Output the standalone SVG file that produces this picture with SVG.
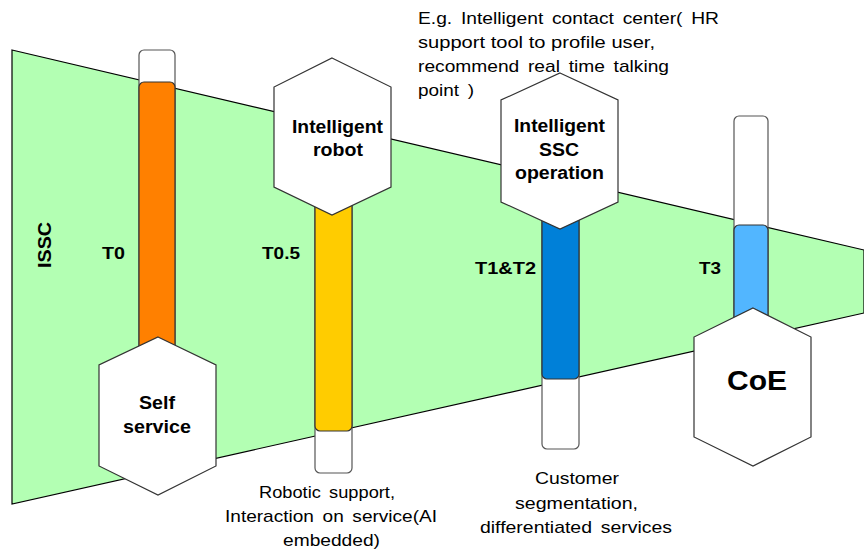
<svg xmlns="http://www.w3.org/2000/svg" width="864" height="549" viewBox="0 0 864 549">
<style>
.t{font-family:"Liberation Sans",Arial,sans-serif;fill:#000}
.b{font-weight:bold}
.hex{fill:#fff;stroke:#333;stroke-width:1.2}
.outer{fill:#fff;stroke:#555;stroke-width:1.2}
.bar{stroke:#333;stroke-width:1.2}
</style>
<rect width="864" height="549" fill="#fff"/>
<g id="issc-band">
<polygon points="12,50 864,250 864,313 12,504" fill="#b3ffb3" stroke="#000" stroke-width="1.2"/>
<text class="t b" font-size="19" transform="translate(51,245) rotate(-90)" text-anchor="middle" textLength="46" lengthAdjust="spacingAndGlyphs">ISSC</text>
</g>
<g id="connectors">
<rect class="outer" x="139" y="50" width="36" height="380" rx="5"/>
<rect class="bar" x="139" y="82" width="36" height="380" rx="5" fill="#ff8000"/>
<rect class="outer" x="315" y="150" width="37" height="323" rx="5"/>
<rect class="bar" x="315" y="150" width="37" height="281" rx="5" fill="#ffcc00"/>
<rect class="outer" x="542" y="180" width="37" height="269" rx="5"/>
<rect class="bar" x="542" y="180" width="37" height="199" rx="5" fill="#0080d8"/>
<rect class="outer" x="734" y="116" width="34" height="220" rx="5"/>
<rect class="bar" x="734" y="225" width="34" height="111" rx="5" fill="#52b6ff"/>
</g>
<g id="labels">
<text class="t b" font-size="17" x="102" y="259" textLength="23" lengthAdjust="spacingAndGlyphs">T0</text>
<text class="t b" font-size="17" x="262" y="259" textLength="38" lengthAdjust="spacingAndGlyphs">T0.5</text>
<text class="t b" font-size="17" x="475" y="274" textLength="61" lengthAdjust="spacingAndGlyphs">T1&amp;T2</text>
<text class="t b" font-size="17" x="699" y="274" textLength="22" lengthAdjust="spacingAndGlyphs">T3</text>
</g>
<g id="self-service">
<polygon class="hex" points="158,337 216,365 216,466 158,495 99,466 99,365"/>
<text class="t b" font-size="18" x="139" y="409" textLength="36" lengthAdjust="spacingAndGlyphs">Self</text>
<text class="t b" font-size="18" x="123" y="433" textLength="68" lengthAdjust="spacingAndGlyphs">service</text>
</g>
<g id="intelligent-robot">
<polygon class="hex" points="332,58 391,87 391,187 332,215 274,187 274,87"/>
<text class="t b" font-size="18" x="292" y="133" textLength="91" lengthAdjust="spacingAndGlyphs">Intelligent</text>
<text class="t b" font-size="18" x="313" y="156" textLength="50" lengthAdjust="spacingAndGlyphs">robot</text>
</g>
<g id="intelligent-ssc">
<polygon class="hex" points="560,73 618,100 618,202 560,229 501,202 501,100"/>
<text class="t b" font-size="18" x="514" y="132" textLength="91" lengthAdjust="spacingAndGlyphs">Intelligent</text>
<text class="t b" font-size="18" x="539" y="156" textLength="40" lengthAdjust="spacingAndGlyphs">SSC</text>
<text class="t b" font-size="18" x="515" y="179" textLength="89" lengthAdjust="spacingAndGlyphs">operation</text>
</g>
<g id="coe">
<polygon class="hex" points="753,308 811,337 811,437 753,466 694,437 694,337"/>
<text class="t b" font-size="28" x="727" y="390" textLength="60" lengthAdjust="spacingAndGlyphs">CoE</text>
</g>
<g id="notes">
<text class="t" font-size="17" x="418" y="24" textLength="301" lengthAdjust="spacingAndGlyphs" word-spacing="3">E.g. Intelligent contact center( HR</text>
<text class="t" font-size="17" x="418" y="48" textLength="237" lengthAdjust="spacingAndGlyphs">support tool to profile user,</text>
<text class="t" font-size="17" x="418" y="72" textLength="251" lengthAdjust="spacingAndGlyphs" word-spacing="3">recommend real time talking</text>
<text class="t" font-size="17" x="418" y="96" textLength="56" lengthAdjust="spacingAndGlyphs" word-spacing="3">point )</text>
<text class="t" font-size="17" x="259" y="498" textLength="136" lengthAdjust="spacingAndGlyphs" word-spacing="3">Robotic support,</text>
<text class="t" font-size="17" x="225" y="522" textLength="212" lengthAdjust="spacingAndGlyphs" word-spacing="3">Interaction on service(AI</text>
<text class="t" font-size="17" x="283" y="546" textLength="97" lengthAdjust="spacingAndGlyphs">embedded)</text>
<text class="t" font-size="17" x="535" y="484" textLength="84" lengthAdjust="spacingAndGlyphs">Customer</text>
<text class="t" font-size="17" x="515" y="509" textLength="123" lengthAdjust="spacingAndGlyphs">segmentation,</text>
<text class="t" font-size="17" x="480" y="533" textLength="192" lengthAdjust="spacingAndGlyphs" word-spacing="3">differentiated services</text>
</g>
</svg>
